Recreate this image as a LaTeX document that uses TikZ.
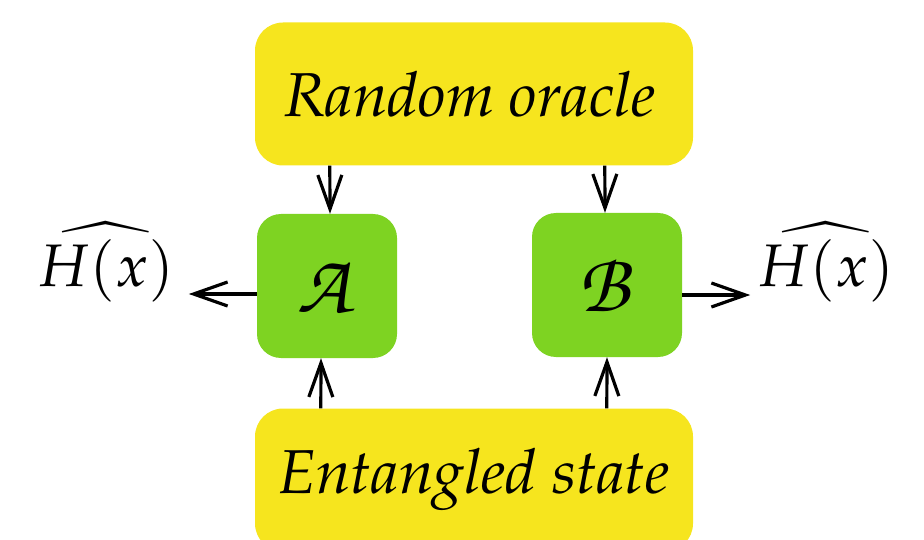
\documentclass[tikz,border=0pt]{standalone}
\usepackage[T1]{fontenc}
\usepackage{mathpazo}
\DeclareMathAlphabet{\mathpzc}{OT1}{pzc}{m}{it}
\usepackage{xcolor}
\usetikzlibrary{arrows.meta,positioning}
\definecolor{oracleyellow}{HTML}{F6E51E}
\definecolor{partygreen}{HTML}{7ED322}

\begin{document}
\begin{tikzpicture}[
  x=1pt,y=-1pt,
  bigbox/.style={fill=oracleyellow,rounded corners=28pt,inner sep=0pt,minimum width=438pt,minimum height=143pt,font=\fontsize{62}{70}\selectfont\itshape},
  party/.style={fill=partygreen,rounded corners=24pt,inner sep=0pt,minimum height=144pt,font=\fontsize{84}{90}\selectfont},
  label/.style={inner sep=0pt,font=\fontsize{60}{66}\selectfont},
  arrow/.style={-{Straight Barb[length=34pt,width=24pt,line width=3.2pt]},line width=3.2pt,draw=black}
]
\useasboundingbox (0,0) rectangle (924,540);
\clip (0,0) rectangle (924,540);
\node[bigbox] (oracle) at (474,94) {Random oracle\hspace*{8pt}};
\node[bigbox] (state) at (474,480) {Entangled state};
\node[party,minimum width=140pt] (advA) at (327,286) {$\mathpzc{A}$};
\node[party,minimum width=150pt] (advB) at (607,285) {$\mathpzc{B}$};
\node[label] (hatL) at (106,262) {$\widehat{H(x)}$};
\node[label] (hatR) at (826,262) {$\widehat{H(x)}$};
\draw[arrow] ([xshift=75pt]oracle.south west) -- ([xshift=3pt]advA.north);
\draw[arrow] ([xshift=350pt]oracle.south west) -- ([xshift=-2pt]advB.north);
\draw[arrow] ([xshift=66pt]state.north west) -- ([xshift=-6pt]advA.south);
\draw[arrow] ([xshift=352pt]state.north west) -- (advB.south);
\draw[arrow] ([yshift=-8pt]advA.west) -- ++(-68pt,0);
\draw[arrow] ([yshift=-10pt]advB.east) -- ++(68pt,0);
\end{tikzpicture}
\end{document}
